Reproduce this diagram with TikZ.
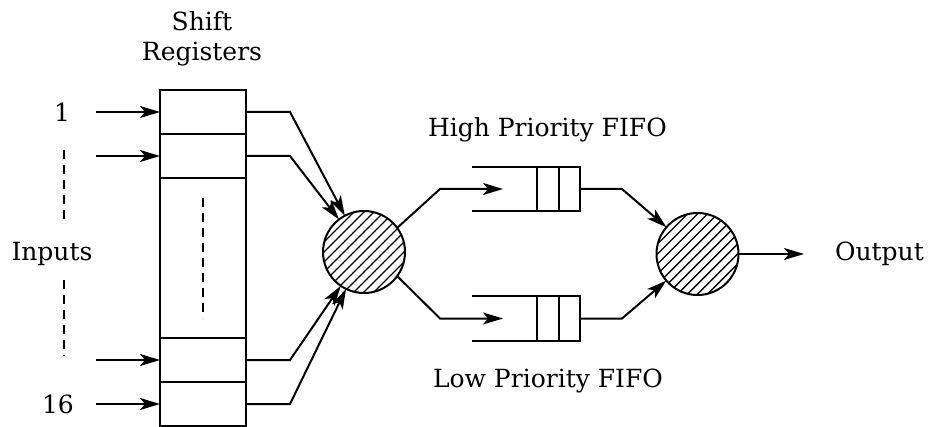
\documentclass[tikz,border=0pt]{standalone}
\usepackage{fontspec}
\setmainfont{DejaVu Serif}
\usetikzlibrary{arrows.meta}
\begin{document}
\begin{tikzpicture}[x=1pt,y=-1pt,
  line width=2pt,
  font=\fontsize{25}{30}\selectfont,
  arr/.style={-{Stealth[length=20pt,width=12pt,inset=5pt]}},
  reg/.style={draw, minimum width=86pt, minimum height=44pt, inner sep=0pt, outer sep=0pt},
  fifo/.style={draw, minimum width=43pt, minimum height=44pt, inner sep=0pt, outer sep=0pt,
    path picture={\draw[line width=2pt] (path picture bounding box.north) -- (path picture bounding box.south);}},
  hatched/.style={circle, draw, minimum size=82pt, inner sep=0pt, outer sep=0pt,
    path picture={\foreach \k in {-80,-70,...,80}
      \draw[line width=1.4pt] ([xshift=\k pt-60pt, yshift=-60pt]path picture bounding box.center) -- ++(120pt,120pt);}},
  lbl/.style={inner sep=0pt, outer sep=0pt},
  dotsline/.style={dash pattern=on 9pt off 6pt}
]
\useasboundingbox (0,0) rectangle (928,427);

% shift register column
\node[reg] (r1) at (203,112) {};
\node[reg] (r2) at (203,156) {};
\node[reg, minimum height=160pt] (rmid) at (203,258) {};
\node[reg] (r15) at (203,360) {};
\node[reg] (r16) at (203,404) {};
\node[lbl, align=center] (title) at (202,39) {Shift\\Registers};
\coordinate (md1) at (203,198);
\coordinate (md2) at (203,318);
\draw[dotsline] (md1) -- (md2);

% input side
\node[lbl, anchor=base] (in1) at (62,122) {1};
\node[lbl, anchor=base] (in16) at (58,413) {16};
\node[lbl, anchor=base] (inlbl) at (52,261) {Inputs};
\coordinate (d1) at (64,150);
\coordinate (d2) at (64,224);
\coordinate (d3) at (64,280);
\coordinate (d4) at (64,356);
\draw[dotsline] (d1) -- (d2);
\draw[dotsline] (d3) -- (d4);
\coordinate (s1) at (96,112);
\coordinate (s2) at (96,156);
\coordinate (s15) at (96,360);
\coordinate (s16) at (96,404);
\draw[arr] (s1) -- (r1.west);
\draw[arr] (s2) -- (r2.west);
\draw[arr] (s15) -- (r15.west);
\draw[arr] (s16) -- (r16.west);

% first selector
\node[hatched] (c1) at (364,252) {};
\draw[arr] (r1.east) -- (290,112) -- (c1);
\draw[arr] (r2.east) -- (290,156) -- (c1);
\draw[arr] (r15.east) -- (290,360) -- (c1);
\draw[arr] (r16.east) -- (290,404) -- (c1);

% priority queues
\node[fifo] (hf) at (558.5,189) {};
\node[fifo] (lf) at (558.5,318.5) {};
\draw (hf.north west) -- ++(-65,0);
\draw (hf.south west) -- ++(-65,0);
\draw (lf.north west) -- ++(-65,0);
\draw (lf.south west) -- ++(-65,0);
\node[lbl, anchor=base west] (hlbl) at (428,137) {High Priority FIFO};
\node[lbl, anchor=base west] (llbl) at (433,387) {Low Priority FIFO};
\coordinate (hin) at (503,189);
\coordinate (lin) at (503,318.5);
\draw[arr] (c1.36) -- (440,189) -- (hin);
\draw[arr] (c1.-36) -- (440,318.5) -- (lin);

% second selector and output
\node[hatched] (c2) at (697.5,254) {};
\draw[arr] (hf.east) -- (622,189) -- (c2);
\draw[arr] (lf.east) -- (622,318.5) -- (c2);
\coordinate (oend) at (804,254);
\draw[arr] (c2.east) -- (oend);
\node[lbl, anchor=west] (outlbl) at (835,254) {Output};
\end{tikzpicture}
\end{document}
